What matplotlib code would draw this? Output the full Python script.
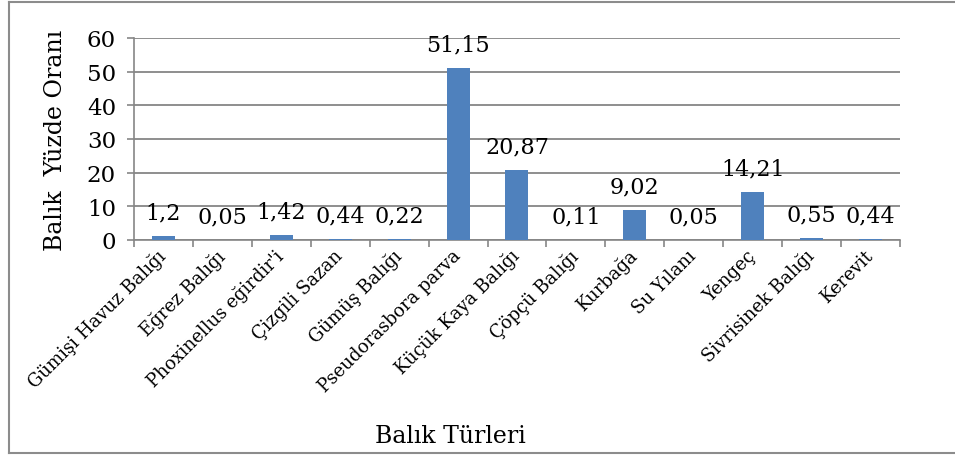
import matplotlib.pyplot as plt
from matplotlib.lines import Line2D

turler = ['Gümişi Havuz Balığı', 'Eğrez Balığı', "Phoxinellus eğirdir'i",
          'Çizgili Sazan', 'Gümüş Balığı', 'Pseudorasbora parva',
          'Küçük Kaya Balığı', 'Çöpçü Balığı', 'Kurbağa', 'Su Yılanı',
          'Yengeç', 'Sivrisinek Balığı', 'Kerevit']
oranlar = [1.2, 0.05, 1.42, 0.44, 0.22, 51.15, 20.87, 0.11, 9.02, 0.05,
           14.21, 0.55, 0.44]
y_ticks = [0, 10, 20, 30, 40, 50, 60]

plt.rcParams['font.family'] = ['DejaVu Serif']

fig = plt.figure(figsize=(9.55, 4.56), dpi=100)
ax = fig.add_axes([0.1403, 0.4715, 0.8021, 0.443])

# bars at category centres, ticks on the category boundaries (Excel style)
x = [i + 0.5 for i in range(len(turler))]
ax.bar(x, oranlar, width=0.39, color='#4F81BD', zorder=3)

for xi, v in zip(x, oranlar):
    etiket = ('%g' % v).replace('.', ',')
    ax.annotate(etiket, (xi, v), xytext=(0, 9), textcoords='offset points',
                ha='center', va='bottom', fontsize=16, zorder=4)

ax.set_xlim(0, len(turler))
ax.set_ylim(0, 60)
ax.set_yticks(y_ticks)
ax.yaxis.grid(True, color='#868686', linewidth=1.3, zorder=0)
ax.tick_params(axis='y', labelsize=16.5, length=5, color='#868686', width=1.2, pad=8)

ax.set_xticks(range(len(turler) + 1))
ax.set_xticklabels([])
ax.tick_params(axis='x', which='major', length=5, color='#868686', width=1.2)
ax.set_xticks(x, minor=True)
ax.set_xticklabels(turler, minor=True, rotation=45, ha='right', va='center',
                   rotation_mode='anchor', fontsize=13)
ax.tick_params(axis='x', which='minor', length=0, pad=9)

for s in ['top', 'right']:
    ax.spines[s].set_visible(False)
for s in ['left', 'bottom']:
    ax.spines[s].set_color('#868686')
    ax.spines[s].set_linewidth(1.2)

ax.set_ylabel('Balık  Yüzde Oranı', fontsize=17, labelpad=14)
fig.text(450 / 955, 1 - 437 / 456, 'Balık Türleri', fontsize=17,
         ha='center', va='center')

# chart border
W, H = 955, 456
kenar = dict(color='#8c8c8c', linewidth=1.5, transform=fig.transFigure)
fig.add_artist(Line2D([9 / W, 1], [1 - 3 / H, 1 - 3 / H], **kenar))
fig.add_artist(Line2D([9 / W, 9 / W], [1 - 3 / H, 1 - 454 / H], **kenar))
fig.add_artist(Line2D([9 / W, 1], [1 - 454 / H, 1 - 454 / H], **kenar))

fig.savefig('out.png', dpi=100)
